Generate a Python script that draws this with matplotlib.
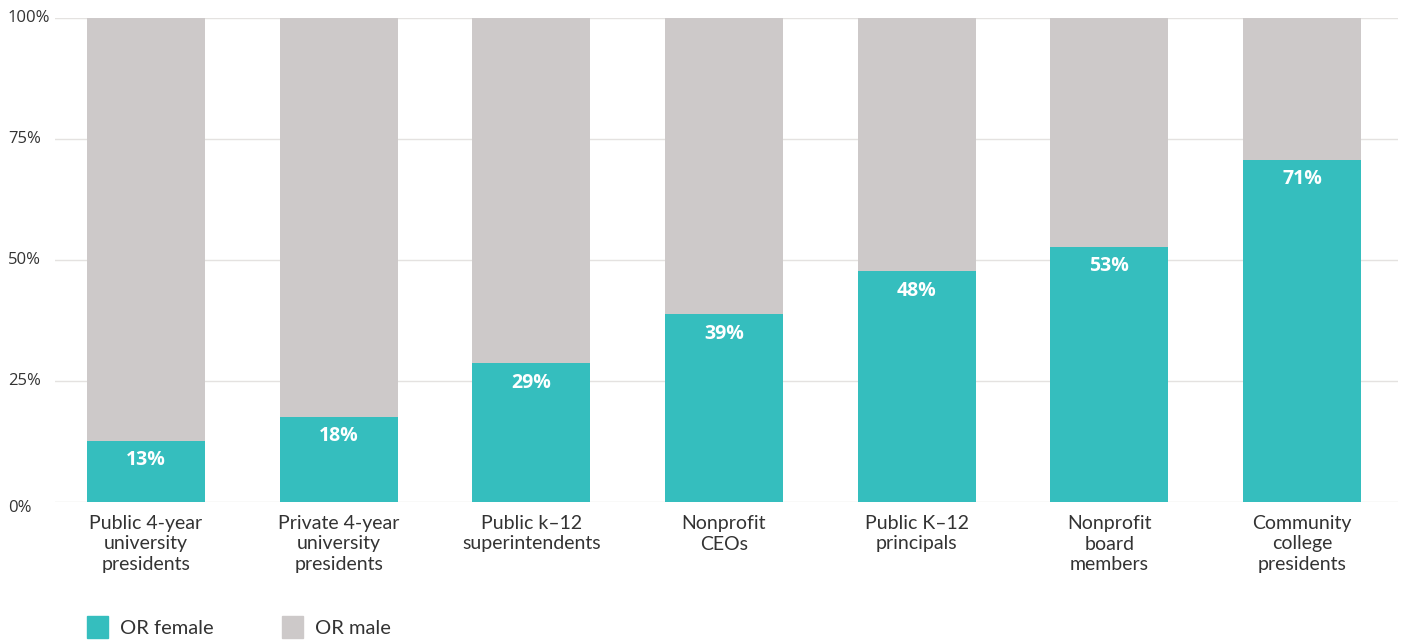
import matplotlib
matplotlib.use("Agg")
import matplotlib.pyplot as plt
from matplotlib.patches import Rectangle

categories = ["Public 4-year\nuniversity\npresidents", "Private 4-year\nuniversity\npresidents",
              "Public k–12\nsuperintendents", "Nonprofit\nCEOs", "Public K–12\nprincipals",
              "Nonprofit\nboard\nmembers", "Community\ncollege\npresidents"]
female = [12.6, 17.6, 28.7, 38.8, 47.7, 52.7, 70.7]
labels = ["13%", "18%", "29%", "39%", "48%", "53%", "71%"]
male = [100 - f for f in female]
yticks = [0, 25, 50, 75, 100]
ytick_labels = ["0%", "25%", "50%", "75%", "100%"]

TEAL = "#35BEBE"
GRAY = "#CDC9C9"

fig = plt.figure(figsize=(14.05, 6.4), dpi=100)
ax = fig.add_axes([55/1405, 1-502/640, (1398-55)/1405, (502-18)/640])

x = list(range(len(categories)))
w = 0.612
ax.bar(x, female, width=w, color=TEAL, zorder=3)
ax.bar(x, male, width=w, bottom=female, color=GRAY, zorder=3)

for xi, f, lab in zip(x, female, labels):
    ax.annotate(lab, (xi, f), xytext=(0, -14), textcoords="offset points",
                ha="center", va="center", color="white", fontsize=14,
                fontweight="bold", family="Open Sans", zorder=4)

ax.set_xlim(-0.472, 6.498)
ax.set_ylim(0, 100)
for s in ax.spines.values():
    s.set_visible(False)
ax.set_yticks(yticks)
ax.yaxis.grid(True, color="#e4e2e0", linewidth=1, zorder=0)
ax.tick_params(axis="y", length=0, labelleft=False)
ax.tick_params(axis="x", length=0, labelbottom=False)

for v, t in zip(yticks, ytick_labels):
    dy = -6 if v == 0 else 0
    ax.annotate(t, (0, v), xycoords=("figure pixels", "data"), xytext=(8, dy),
                textcoords="offset pixels", ha="left", va="center",
                fontsize=12, color="#333333", family="Open Sans")

for xi, c in zip(x, categories):
    ax.annotate(c, (xi, 0), xytext=(0, -13), textcoords="offset pixels",
                ha="center", va="top", fontsize=14, color="#333333",
                family="Lato", linespacing=1.25)

# legend
for (lx, col, txt) in [(87, TEAL, "OR female"), (282, GRAY, "OR male")]:
    fig.patches.append(Rectangle((lx/1405, 1-638/640), 21/1405, 22/640,
                                 transform=fig.transFigure, color=col, figure=fig))
    fig.text((lx+33)/1405, 1-628/640, txt, ha="left", va="center",
             fontsize=14.5, color="#333333", family="Lato")

fig.savefig("out.png", dpi=100)
